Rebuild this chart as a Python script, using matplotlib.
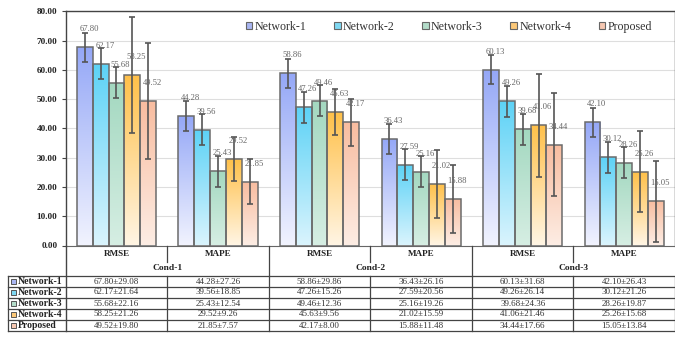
import numpy as np
import matplotlib
matplotlib.use('Agg')
import matplotlib.pyplot as plt
from matplotlib.patches import Patch, Rectangle
from matplotlib.colors import LinearSegmentedColormap

plt.rcParams['font.family'] = ['Liberation Serif', 'DejaVu Serif']

# metric / condition layout
metrics = ['RMSE', 'MAPE', 'RMSE', 'MAPE', 'RMSE', 'MAPE']
conds = ['Cond-1', 'Cond-2', 'Cond-3']
models = ['Network-1', 'Network-2', 'Network-3', 'Network-4', 'Proposed']

# mean values per model, one entry per metric column
net1 = [67.80, 44.28, 58.86, 36.43, 60.13, 42.10]
net2 = [62.17, 39.56, 47.26, 27.59, 49.26, 30.12]
net3 = [55.68, 25.43, 49.46, 25.16, 39.68, 28.26]
net4 = [58.25, 29.52, 45.63, 21.02, 41.06, 25.26]
prop = [49.52, 21.85, 42.17, 15.88, 34.44, 15.05]

# standard deviations shown in the table
net1_sd = [29.08, 27.26, 29.86, 26.16, 31.68, 26.43]
net2_sd = [21.64, 18.85, 15.26, 20.56, 26.14, 21.26]
net3_sd = [22.16, 12.54, 12.36, 19.26, 24.36, 19.87]
net4_sd = [21.26, 9.26, 9.56, 15.59, 21.46, 15.68]
prop_sd = [19.80, 7.57, 8.00, 11.48, 17.66, 13.84]

# error bar half-widths drawn on the bars
net1_err = [5.0, 5.0, 5.0, 5.0, 5.0, 5.0]
net2_err = [5.3, 5.3, 5.3, 5.3, 5.3, 5.3]
net3_err = [5.3, 5.3, 5.3, 5.3, 5.3, 5.3]
net4_err = [19.80, 7.57, 8.00, 11.48, 17.66, 13.84]
prop_err = [19.80, 7.57, 8.00, 11.48, 17.66, 13.84]

means = [net1, net2, net3, net4, prop]
sds = [net1_sd, net2_sd, net3_sd, net4_sd, prop_sd]
errs = [net1_err, net2_err, net3_err, net4_err, prop_err]

top_colors = ['#94a7f7', '#5cd2f6', '#a3d8c0', '#ffc048', '#f8bc9f']
bot_colors = ['#f1f3fe', '#daf4fd', '#d6eee3', '#fff5e4', '#fdede4']
swatch = ['#a9b6f2', '#7fd8f2', '#b3dcc9', '#fcc878', '#f6c8b2']

W, H = 675, 343
fig = plt.figure(figsize=(W / 100, H / 100), dpi=100)

x0, x1 = 65.7, 675.0
ytop, ybot = 11.5, 245.5
ax = fig.add_axes([x0 / W, 1 - ybot / H, (x1 - x0) / W, (ybot - ytop) / H])

ncat = len(metrics)
bw = 0.156
xc = np.arange(ncat) + 0.5

ax.set_xlim(0, ncat)
ax.set_ylim(0, 80)
ax.set_yticks(np.arange(0, 81, 10))
ax.set_yticklabels([f'{v:.2f}' for v in np.arange(0, 81, 10)], fontsize=6.6, fontweight='bold', color='#222222')
ax.set_xticks([])
ax.tick_params(axis='y', length=3, width=0.8, color='#444444', pad=3)
ax.yaxis.grid(True, color='#dedede', lw=0.8)
ax.set_axisbelow(True)
for s in ['left', 'top', 'right']:
    ax.spines[s].set_color('#444444')
    ax.spines[s].set_linewidth(1.0)
ax.spines['bottom'].set_color('#666666')
ax.spines['bottom'].set_linewidth(0.8)

grad = np.linspace(0, 1, 256).reshape(-1, 1)
for i in range(len(models)):
    cmap = LinearSegmentedColormap.from_list(f'g{i}', [bot_colors[i], top_colors[i]])
    xs = xc + (i - 2) * bw
    bars = ax.bar(xs, means[i], width=bw, facecolor='none', edgecolor='#6b6b6b', linewidth=1.1, zorder=3)
    for b, v in zip(bars, means[i]):
        im = ax.imshow(grad, cmap=cmap, aspect='auto', origin='lower',
                       extent=[b.get_x(), b.get_x() + bw, 0, v], zorder=2)
        im.set_clip_path(b)
    ax.errorbar(xs, means[i], yerr=errs[i], fmt='none', ecolor='#555555', elinewidth=1.2,
                capsize=2.2, capthick=1.2, zorder=4)
    for x, v in zip(xs, means[i]):
        ax.annotate(f'{v:.2f}', (x, v), xytext=(3, 13), textcoords='offset points',
                    ha='center', va='center', fontsize=6.2, color='#666666', zorder=5)
ax.set_xlim(0, ncat)
ax.set_ylim(0, 80)

handles = [Patch(facecolor=c, edgecolor='#666666', linewidth=0.8) for c in swatch]
ax.legend(handles, models, ncol=5, loc='center right', bbox_to_anchor=(0.972, 0.934), frameon=False,
          fontsize=8.6, handlelength=0.55, handleheight=0.55, handletextpad=0.2, columnspacing=2.3,
          labelcolor='#333333', borderpad=0)

# data table under the chart
tb_top, tb_bot = 245.5, 331.0
lab_left = 8.0
cw = (x1 - x0) / ncat
tab = fig.add_axes([lab_left / W, 1 - tb_bot / H, (x1 - lab_left) / W, (tb_bot - tb_top) / H])
xl = -(x0 - lab_left) / cw
tab.set_xlim(xl, ncat)
tab.set_ylim(tb_bot - tb_top, 0)
tab.axis('off')

lc = '#444444'
row_top = 30.5
rh = (tb_bot - tb_top - row_top) / len(models)

tab.plot([0, 0], [0, tb_bot - tb_top], color=lc, lw=1.0, clip_on=False)
for k in range(1, ncat):
    y_end = 16 if k % 2 else row_top
    tab.plot([k, k], [0, y_end], color=lc, lw=0.9, clip_on=False)
for k in range(ncat):
    tab.text(k + 0.5, 8.5, metrics[k], ha='center', va='center', fontsize=6.6, fontweight='bold', color='#222222')
for c, name in enumerate(conds):
    tab.text(2 * c + 1, 22.5, name, ha='center', va='center', fontsize=6.8, fontweight='bold', color='#222222')

for r in range(len(models) + 1):
    y = row_top + r * rh
    tab.plot([xl, ncat], [y, y], color=lc, lw=0.9, clip_on=False)
tab.plot([xl, xl], [row_top, tb_bot - tb_top], color=lc, lw=0.9, clip_on=False)
for k in range(1, ncat + 1):
    tab.plot([k, k], [row_top, tb_bot - tb_top], color=lc, lw=0.9, clip_on=False)

px = 1.0 / cw
for r, name in enumerate(models):
    yc = row_top + (r + 0.5) * rh
    tab.add_patch(Rectangle((xl + 2.5 * px, yc - 2.6), 5.5 * px, 5.2, facecolor=swatch[r],
                            edgecolor='#555555', lw=0.7))
    tab.text(xl + 10 * px, yc, name, ha='left', va='center', fontsize=7, fontweight='bold', color='#222222')
    for k in range(ncat):
        tab.text(k + 0.5, yc, f'{means[r][k]:.2f}±{sds[r][k]:.2f}', ha='center', va='center',
                 fontsize=6.5, color='#333333')

fig.savefig('out.png', dpi=100, facecolor='white')
